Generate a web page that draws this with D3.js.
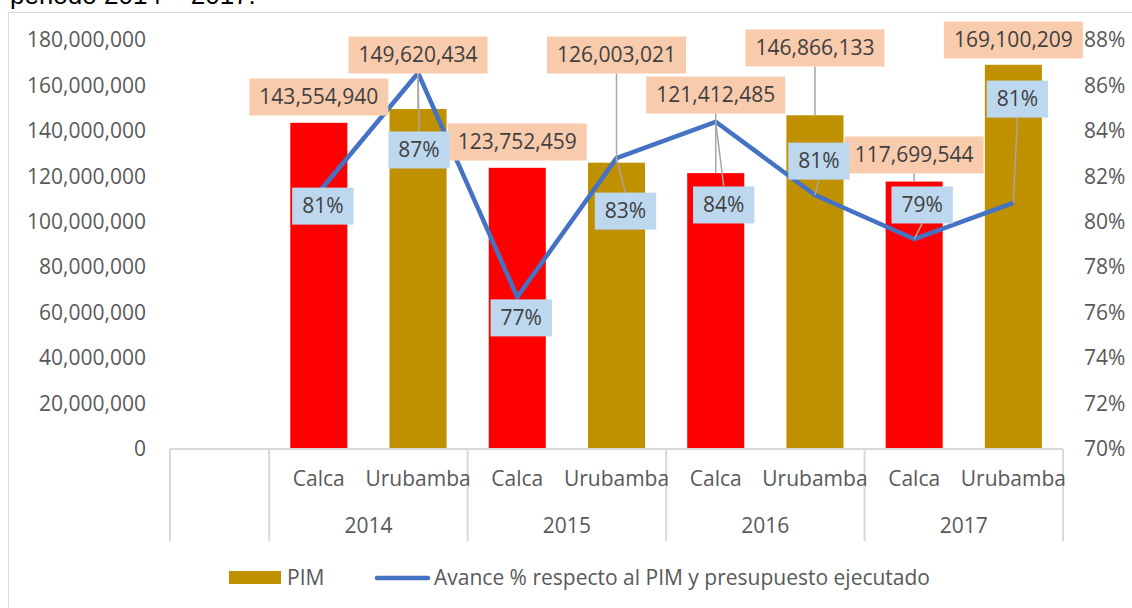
<!DOCTYPE html>
<html>
<head>
<meta charset="utf-8">
<script src="https://cdn.jsdelivr.net/npm/d3@7"></script>
<style>
    body { margin: 0; background: #fff; }
    svg { display: block; }
    text { font-family: "Open Sans", "Liberation Sans", sans-serif; }
</style>
</head>
<body>
<div id="plotSect"></div>
<script>
/* global d3 */

// Chart values //

let years = ["2014", "2015", "2016", "2017"];
let provinces = ["Calca", "Urubamba"];
let pim = [143554940, 149620434, 123752459, 126003021, 121412485, 146866133, 117699544, 169100209];
let avance = [0.813, 0.8655, 0.7669, 0.828, 0.844, 0.8118, 0.7924, 0.8083];
let leftTicks = [0, 20e6, 40e6, 60e6, 80e6, 100e6, 120e6, 140e6, 160e6, 180e6];
let rightTicks = [0.70, 0.72, 0.74, 0.76, 0.78, 0.80, 0.82, 0.84, 0.86, 0.88];

// where the moved data labels sit, in axis units
let pimLabelAt = [154.9e6, 173.4e6, 135.1e6, 173.4e6, 155.8e6, 176.5e6, 129.4e6, 180e6];
let pctLabelAt = [0.8069, 0.8316, 0.7577, 0.8047, 0.8074, 0.8267, 0.8074, 0.8540];
let pctLabelDx = [4, 1, 4, 9, 8, 4, 8, 4];

let rows = [];
years.forEach(function(y) {
    provinces.forEach(function(p) {
        rows.push({year: y, prov: p});
    });
});
rows.forEach(function(d, i) {
    d.key = d.year + "|" + d.prov;
    d.pim = pim[i];
    d.avance = avance[i];
    d.pimAt = pimLabelAt[i];
    d.pctAt = pctLabelAt[i];
    d.pctDx = pctLabelDx[i];
});

// Initial chart setup //

let SVGwidth = 1132,
SVGheight = 608;

let svg = d3.select("#plotSect").append("svg")
    .attr("width", SVGwidth)
    .attr("height", SVGheight);

let plotLeft = 170, plotRight = 1063, plotTop = 40, plotBottom = 449;

// an empty first slot, as in the original sheet
let xScale = d3.scaleBand()
    .domain(["_blank"].concat(rows.map(function(d) { return d.key; })))
    .range([plotLeft, plotRight]);
let barW = xScale.bandwidth() * 0.575;
let xMid = function(d) { return xScale(d.key) + xScale.bandwidth() / 2; };

let yScale = d3.scaleLinear().domain([0, 180e6]).range([plotBottom, plotTop]);
let y2Scale = d3.scaleLinear().domain([0.70, 0.88]).range([plotBottom, plotTop]);

// title remnant and chart frame
svg.append("text")
    .attr("x", 10)
    .attr("y", 4)
    .style("font-family", "Liberation Sans, Arial, sans-serif")
    .style("font-size", "26px")
    .style("fill", "#000")
    .text("periodo 2014 – 2017.");

svg.append("rect")
    .attr("x", 8.5)
    .attr("y", 12.5)
    .attr("width", SVGwidth)
    .attr("height", SVGheight)
    .style("fill", "none")
    .style("stroke", "#d9d9d9");

// axes
let yAxis = d3.axisLeft(yScale).tickValues(leftTicks).tickFormat(d3.format(",")).tickSize(0).tickPadding(0);
let y2Axis = d3.axisRight(y2Scale).tickValues(rightTicks).tickFormat(d3.format(".0%")).tickSize(0).tickPadding(0);

let gy = svg.append("g")
    .attr("class", "yAxis")
    .attr("transform", "translate(146,0)")
    .call(yAxis);
let gy2 = svg.append("g")
    .attr("class", "yAxis")
    .attr("transform", "translate(1084,0)")
    .call(y2Axis);
[gy, gy2].forEach(function(g) {
    g.select(".domain").remove();
    g.selectAll("text")
        .style("font-size", "21px")
        .style("fill", "#595959")
        .style("font-family", "Open Sans, sans-serif");
});

// bars
svg.selectAll(".bar")
    .data(rows)
    .enter().append("rect")
    .attr("class", "bar")
    .attr("x", function(d) { return xMid(d) - barW / 2; })
    .attr("width", barW)
    .attr("y", function(d) { return yScale(d.pim); })
    .attr("height", function(d) { return yScale(0) - yScale(d.pim); })
    .style("fill", function(d) { return d.prov == "Calca" ? "#ff0000" : "#bf9000"; });

// category axis with its grouping grid
let gridColor = "#d9d9d9";
svg.append("line")
    .attr("x1", plotLeft).attr("x2", plotRight)
    .attr("y1", plotBottom).attr("y2", plotBottom)
    .style("stroke", gridColor).style("stroke-width", 2);

let seps = [xScale("_blank"), xScale(rows[0].key)];
years.forEach(function(y, i) {
    seps.push(xScale(rows[i * 2 + 1].key) + xScale.bandwidth());
});
svg.selectAll(".sep")
    .data(seps)
    .enter().append("line")
    .attr("class", "sep")
    .attr("x1", function(d) { return d; })
    .attr("x2", function(d) { return d; })
    .attr("y1", plotBottom)
    .attr("y2", 541)
    .style("stroke", gridColor)
    .style("stroke-width", 2);

svg.selectAll(".catLabel")
    .data(rows)
    .enter().append("text")
    .attr("class", "catLabel")
    .attr("x", xMid)
    .attr("y", 479)
    .attr("dy", "0.35em")
    .style("text-anchor", "middle")
    .style("font-size", "21px")
    .style("fill", "#595959")
    .text(function(d) { return d.prov; });

svg.selectAll(".yearLabel")
    .data(years)
    .enter().append("text")
    .attr("class", "yearLabel")
    .attr("x", function(d, i) { return xScale(rows[i * 2].key) + xScale.bandwidth(); })
    .attr("y", 526)
    .attr("dy", "0.35em")
    .style("text-anchor", "middle")
    .style("font-size", "21px")
    .style("fill", "#595959")
    .text(function(d) { return d; });

// line
let line = d3.line()
    .x(xMid)
    .y(function(d) { return y2Scale(d.avance); });

svg.append("path")
    .datum(rows)
    .attr("d", line)
    .style("fill", "none")
    .style("stroke", "#4472c4")
    .style("stroke-width", 4.5)
    .style("stroke-linejoin", "round");

// data labels: boxes are sized from the text, leaders go to the nearest edge
let labelH = 37;
let leaders = svg.append("g");
let labels = svg.append("g");

function addLabel(cx, cy, txt, fill, ax, ay) {
    let g = labels.append("g");
    let r = g.append("rect");
    let t = g.append("text")
        .attr("x", cx)
        .attr("y", cy)
        .attr("dy", "0.35em")
        .style("text-anchor", "middle")
        .style("font-size", "21px")
        .style("fill", "#404040")
        .text(txt);
    let w = t.node().getComputedTextLength() + 20;
    r.attr("x", cx - w / 2)
        .attr("y", cy - labelH / 2)
        .attr("width", w)
        .attr("height", labelH)
        .style("fill", fill);
    let top = cy - labelH / 2, bot = cy + labelH / 2;
    let ey = null;
    if (ay > bot + 8) ey = bot;
    else if (ay < top - 8) ey = top;
    if (ey !== null) {
        leaders.append("line")
            .attr("x1", ax).attr("y1", ay)
            .attr("x2", cx).attr("y2", ey)
            .style("stroke", "#a6a6a6")
            .style("stroke-width", 1.5);
    }
}

rows.forEach(function(d) {
    addLabel(xMid(d), yScale(d.pimAt), d3.format(",")(d.pim), "#f8cbad", xMid(d), yScale(d.pim));
});
rows.forEach(function(d) {
    addLabel(xMid(d) + d.pctDx, y2Scale(d.pctAt), d3.format(".0%")(d.avance), "#bdd7ee", xMid(d), y2Scale(d.avance));
});

// legend
let legend = svg.append("g").attr("class", "legend");
legend.append("rect")
    .attr("x", 229).attr("y", 571)
    .attr("width", 52).attr("height", 13)
    .style("fill", "#bf9000");
legend.append("text")
    .attr("x", 287).attr("y", 578).attr("dy", "0.35em")
    .style("font-size", "21px").style("fill", "#595959")
    .text("PIM");
legend.append("line")
    .attr("x1", 377).attr("x2", 428)
    .attr("y1", 578).attr("y2", 578)
    .style("stroke", "#4472c4")
    .style("stroke-width", 4.5)
    .style("stroke-linecap", "round");
legend.append("text")
    .attr("x", 434).attr("y", 578).attr("dy", "0.35em")
    .style("font-size", "21px").style("fill", "#595959")
    .text("Avance % respecto al PIM y presupuesto ejecutado");
</script>
</body>
</html>
